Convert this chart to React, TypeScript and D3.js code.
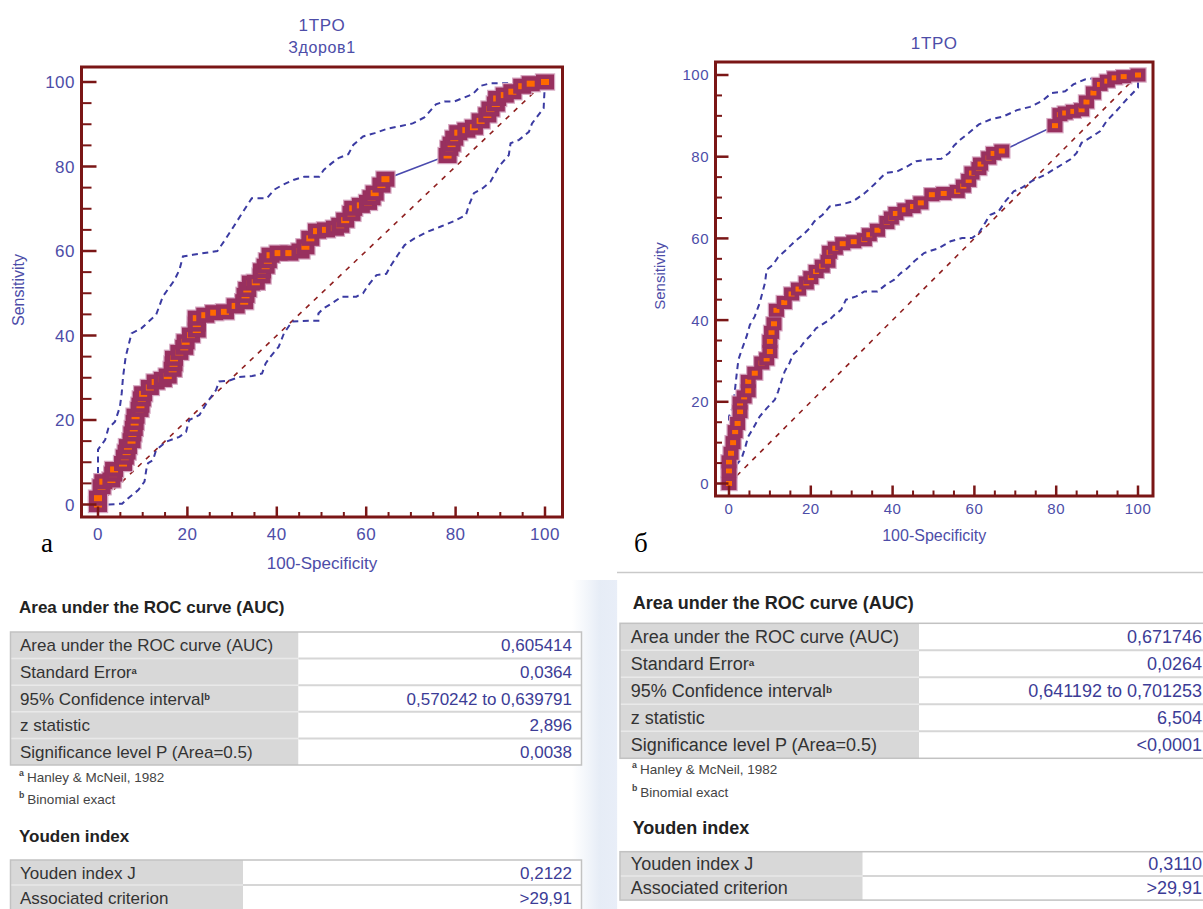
import React from "react";
import * as d3 from "d3";

// ---------- data ----------
const xTickLabels = [0, 20, 40, 60, 80, 100];
const yTickLabels = [0, 20, 40, 60, 80, 100];
const minorTicks = [0, 5, 10, 15, 20, 25, 30, 35, 40, 45, 50, 55, 60, 65, 70, 75, 80, 85, 90, 95, 100];

const titleA = "1TPO";
const subtitleA = "Здоров1";
const titleB = "1TPO";
const xAxisLabel = "100-Specificity";
const yAxisLabel = "Sensitivity";
const panelA = "а";
const panelB = "б";

type P = [number, number];

// chart а : ROC points (100-Specificity, Sensitivity)
const rocA: P[] = [
  [0, 0], [0, 1.5], [0.8, 4.2], [1.2, 5.4], [3, 5.8], [3.4, 7.2], [3.6, 8.3], [5.6, 9.7], [6, 11.2],
  [6.4, 12.4], [6.7, 13.7], [7.5, 15.1], [7.7, 16.7], [8, 18], [8.2, 19.4], [8.4, 20.9], [9.3, 22.5],
  [9.5, 23.5], [9.8, 25], [10.1, 26.2], [11.6, 27.7], [12.9, 29], [14.5, 29.6], [15.6, 30.4], [16.7, 32],
  [16.9, 33.3], [17, 34.6], [18.2, 36], [19.3, 37.2], [19.6, 38.5], [20.8, 40.1], [22.1, 41.3],
  [22.1, 42.7], [22.1, 44.1], [24, 44.8], [26, 45.4], [28.4, 45.6], [30.8, 47], [32.7, 48], [33, 49.5],
  [33.4, 50.9], [34.2, 52.4], [35.3, 52.6], [36.6, 54.1], [36.7, 55.3], [37.5, 56.4], [38, 57.7],
  [38.6, 59], [40.4, 59.5], [42.8, 59.5], [45.3, 60], [46.4, 61], [47.5, 63], [49, 64.7], [51, 65],
  [53, 65.4], [54.2, 66.1], [55.3, 67.3], [56.7, 68.9], [57.1, 70.1], [58.8, 70.8], [60.4, 71.5],
  [61.2, 72.6], [61.9, 73.7], [63.4, 75.6], [64.3, 77], [78.2, 82.6], [78.6, 84.3], [79.1, 85.3],
  [79.7, 86.7], [80.6, 88], [82.4, 88.6], [84.1, 89.3], [85.6, 90.8], [87.1, 92.2], [87.8, 93.6],
  [89, 94.8], [89.3, 96.1], [91, 96.9], [92.7, 97.7], [94.9, 99], [96.8, 99.6], [100, 100],
];
const ciHiA: P[] = [
  [0, 0], [0, 13], [1.6, 15.3], [2.3, 18], [3.8, 19.6], [4.9, 23.1], [5.3, 26.3], [5.6, 30.2],
  [6.2, 35], [7.5, 40.5], [9.7, 41.7], [13, 44.9], [14.5, 49.2], [17.1, 53.1], [18.2, 55.5], [19, 58.7],
  [21.2, 59.1], [26.7, 60], [28.4, 62.6], [30.1, 65.4], [32.7, 69.7], [34.4, 72.5], [37.8, 72.5],
  [39.4, 74.5], [41.2, 75.6], [43.7, 76.8], [46.2, 77.6], [49.5, 77.6], [50.5, 79.2], [52.3, 80.8],
  [53.8, 82], [56, 82.9], [57.1, 85.1], [59.3, 87.1], [61.9, 87.9], [64.9, 89], [67.8, 89.6],
  [70.4, 90.2], [73, 91.6], [75.6, 94.7], [77.5, 95.4], [79.7, 95.4], [81.9, 96.3], [83.8, 97.1],
  [85.6, 99.1], [87.8, 99.7], [93, 99.7], [94.2, 100], [100, 100],
];
const ciLoA: P[] = [
  [0, 0], [2.5, 0], [5.4, 0.2], [7.1, 1.8], [9, 3.4], [10.4, 5.4], [10.8, 8.2], [11.2, 9.8], [12.3, 10.5],
  [13, 12.9], [15.3, 14.9], [18.2, 16], [19.7, 17.2], [20.4, 20], [22.7, 21.2], [24.5, 24.3],
  [26.4, 27.1], [27.1, 29.1], [29.3, 29.3], [31.6, 30.2], [34.5, 30.4], [36.7, 31], [37.5, 33.4],
  [38.6, 35], [40.4, 37.3], [41.6, 40.5], [43.4, 43.3], [47.1, 43.5], [49.3, 43.5], [49.3, 45.2],
  [50.4, 46.4], [52.3, 47.6], [54.5, 49.2], [57.8, 49.2], [59.3, 50], [60.4, 51.8], [62.3, 54.3],
  [64.5, 54.6], [65.6, 56.7], [67.1, 59.1], [68.6, 61.4], [70.8, 63], [73.8, 64.6], [76.7, 65.8],
  [79.7, 67.1], [82.3, 68.5], [83, 70.9], [84.1, 73.7], [86, 74.8], [87.8, 76.4], [89.7, 80],
  [91.9, 82.7], [92.3, 85.5], [94.2, 86.3], [96.4, 88.2], [97.1, 90.2], [99.7, 93.8], [99.8, 96.1],
  [100, 100],
];

// chart б
const rocB: P[] = [
  [0, 0], [0, 3.1], [0, 5.3], [0.5, 7.4], [1, 10], [1.5, 12.7], [2.1, 14.7], [2.7, 17.6], [2.7, 19.7],
  [3.7, 21.2], [4.7, 22.7], [4.7, 25], [6.3, 27], [8, 29.5], [9.2, 30.5], [10, 32.3], [10, 34.8],
  [10.4, 37], [11, 39.1], [11.6, 42.4], [13.5, 44.3], [15.3, 46.4], [17, 47.6], [18.9, 49.1], [20, 50.4],
  [21.3, 51.9], [22.8, 53.2], [24.2, 54.4], [24.6, 56.6], [26, 57.6], [27.8, 58.7], [30.5, 59.2],
  [33.1, 59.7], [34.3, 60.9], [36.3, 62], [38.6, 63.9], [39.7, 65], [40.8, 66.1], [43, 67], [45, 67.8],
  [46.9, 68.7], [49.6, 70.7], [52.5, 71], [55.8, 71.5], [57.3, 72.8], [58.6, 74.2], [59.4, 76],
  [61.1, 77.1], [61.5, 78.2], [63.5, 79.7], [64.7, 80.8], [66.7, 81.4], [79.7, 87.6], [80.9, 90.3],
  [82.2, 90.7], [84.2, 91.1], [86.2, 91.5], [87.4, 93.4], [89.1, 95.6], [90.7, 97.7], [92.5, 98.5],
  [94.3, 99.3], [96.5, 99.6], [100, 100],
];
const ciHiB: P[] = [
  [0, 0], [0, 12.3], [0, 16.4], [1, 18.8], [1.5, 23.3], [1.9, 27], [2.3, 30.3], [3.1, 32.7], [4.3, 36],
  [5.1, 38.8], [6.3, 40.9], [7.5, 44.2], [8.8, 49.1], [9.2, 52.3], [10.8, 53.6], [12, 55.4], [14, 57.2],
  [16.1, 59.3], [18.1, 60.9], [19.7, 62.5], [20.9, 64.2], [22.9, 65.8], [24.6, 67.8], [27.4, 68.3],
  [30.4, 69.1], [33.2, 71.1], [35.5, 73.2], [38.3, 76], [41.1, 76.4], [43.5, 77.6], [45.8, 78.9],
  [48.6, 79.3], [51.9, 79.5], [53.8, 80.9], [55, 82.7], [56.6, 84.2], [58.6, 85.8], [61.1, 87.9],
  [63.9, 89.1], [67.2, 89.9], [70.4, 91.4], [73.6, 92.2], [76.5, 93.6], [78.9, 95.6], [82.2, 96],
  [84.2, 97.7], [87, 98.9], [90.3, 99.3], [95.1, 99.7], [97.6, 100], [100, 100],
];
const ciLoB: P[] = [
  [0, 0], [1.5, 1.7], [1.5, 4.1], [3.1, 6.2], [3.9, 8.6], [4.7, 11.5], [5.9, 13.5], [7.5, 16.4],
  [9.2, 18.4], [11.2, 20.5], [12, 22.5], [12.8, 25], [13.6, 27.4], [14.8, 29.5], [15.6, 31.5],
  [17.3, 33.1], [18.5, 34.8], [20.1, 36.4], [21.3, 38], [22.6, 38.8], [24.6, 40.1], [25.8, 41.3],
  [27.4, 42.5], [28.6, 45], [31.1, 45.8], [33.1, 47], [36.3, 47], [38.4, 48.7], [40.4, 49.9], [42, 51.5],
  [43.6, 52.7], [45.3, 54.4], [47.7, 56.4], [49.7, 57.1], [51.3, 57.6], [54.2, 59.3], [57, 60.1],
  [59.4, 60.1], [61.1, 61.3], [63.1, 64.6], [63.9, 65.8], [65.9, 66.6], [67.6, 69.1], [69.6, 71.5],
  [71.6, 72.4], [74, 74], [77.3, 75.6], [80.1, 77.3], [83.4, 79.3], [85, 80.9], [86.2, 83.4],
  [88.2, 84.6], [90.7, 86.2], [92.3, 88.7], [94.7, 91.2], [97.2, 94], [100, 96.9], [100, 100],
];
const diagonal: P[] = [[0, 0], [100, 100]];

// tables
const aucHeading = "Area under the ROC curve (AUC)";
const aucLabels = ["Area under the ROC curve (AUC)", "Standard Error", "95% Confidence interval", "z statistic", "Significance level P (Area=0.5)"];
const aucSup = ["", "a", "b", "", ""];
const aucValuesA = ["0,605414", "0,0364", "0,570242 to 0,639791", "2,896", "0,0038"];
const aucValuesB = ["0,671746", "0,0264", "0,641192 to 0,701253", "6,504", "<0,0001"];
const footnotes = [["a", "Hanley & McNeil, 1982"], ["b", "Binomial exact"]];
const youdenHeading = "Youden index";
const youdenLabels = ["Youden index J", "Associated criterion"];
const youdenValuesA = ["0,2122", ">29,91"];
const youdenValuesB = ["0,3110", ">29,91"];

// ---------- styles ----------
const SANS = "'Liberation Sans', Arial, sans-serif";
const SERIF = "'Liberation Serif', 'Times New Roman', serif";
const AXIS = "#7a1616";
const TXT = "#4d4da8";
const PURPLE = "#98305f";
const HALO = "#d7a8c2";
const ORANGE = "#ff6a00";
const CI = "#3b3ba2";
const DIAG = "#8f1f1f";

type ChartCfg = {
  frame: { l: number; r: number; t: number; b: number };
  xr: [number, number];
  yr: [number, number];
  roc: P[]; hi: P[]; lo: P[];
  title: string; subtitle?: string;
  titleY: number; subY?: number; titleSize: number;
  tickSize: number; yLabX: number; xLabY: number;
  axisSize: number; xTitleY: number; yTitleX: number; yTitleY: number;
  yMaj: number; yMin: number; xMaj: number; xMin: number;
  mw: number; mh: number; ow: number; oh: number;
  panel: string; panelX: number; panelY: number;
};

function RocChart(c: ChartCfg) {
  const x = d3.scaleLinear().domain([0, 100]).range(c.xr);
  const y = d3.scaleLinear().domain([0, 100]).range(c.yr);
  const line = d3.line<P>().x((d) => x(d[0])).y((d) => y(d[1]));
  const cx = (c.frame.l + c.frame.r) / 2;
  return (
    <g>
      <text x={cx} y={c.titleY} textAnchor="middle" fontFamily={SANS} fontSize={c.titleSize} fill={TXT} letterSpacing={0.6}>{c.title}</text>
      {c.subtitle && (
        <text x={cx} y={c.subY} textAnchor="middle" fontFamily={SANS} fontSize={c.titleSize - 1} fill={TXT} letterSpacing={0.6}>{c.subtitle}</text>
      )}
      {/* diagonal */}
      <path d={line(diagonal) || ""} fill="none" stroke={DIAG} strokeWidth={1.6} strokeDasharray="5 6" />
      {/* CI */}
      <path d={line(c.hi) || ""} fill="none" stroke={CI} strokeWidth={2} strokeDasharray="6 4.5" />
      <path d={line(c.lo) || ""} fill="none" stroke={CI} strokeWidth={2} strokeDasharray="6 4.5" />
      {/* ROC line */}
      <path d={line(c.roc) || ""} fill="none" stroke="#4a4aae" strokeWidth={1.6} />
      {/* halo under markers */}
      {c.roc.map((d, i) => (
        <rect key={"h" + i} x={x(d[0]) - c.mw / 2 - 1.2} y={y(d[1]) - c.mh / 2 - 1.2} width={c.mw + 2.4} height={c.mh + 2.4} fill={HALO} />
      ))}
      {/* markers */}
      {c.roc.map((d, i) => (
        <g key={i}>
          <rect x={x(d[0]) - c.mw / 2} y={y(d[1]) - c.mh / 2} width={c.mw} height={c.mh} fill={PURPLE} />
          <rect x={x(d[0]) - c.ow / 2} y={y(d[1]) - c.oh / 2} width={c.ow} height={c.oh} fill={ORANGE} />
        </g>
      ))}
      {/* ticks */}
      {minorTicks.map((v) => {
        const maj = v % 20 === 0;
        return (
          <g key={"t" + v}>
            <line x1={c.frame.l} x2={c.frame.l + (maj ? c.yMaj : c.yMin)} y1={y(v)} y2={y(v)} stroke={AXIS} strokeWidth={maj ? 2.5 : 2} />
            <line y1={c.frame.b} y2={c.frame.b - (maj ? c.xMaj : c.xMin)} x1={x(v)} x2={x(v)} stroke={AXIS} strokeWidth={maj ? 2.5 : 2} />
          </g>
        );
      })}
      <rect x={c.frame.l} y={c.frame.t} width={c.frame.r - c.frame.l} height={c.frame.b - c.frame.t} fill="none" stroke={AXIS} strokeWidth={3} />
      {yTickLabels.map((v) => (
        <text key={"yl" + v} x={c.yLabX} y={y(v)} dy="0.36em" textAnchor="end" fontFamily={SANS} fontSize={c.tickSize} fill={TXT} letterSpacing={0.5}>{v}</text>
      ))}
      {xTickLabels.map((v) => (
        <text key={"xl" + v} x={x(v)} y={c.xLabY} textAnchor="middle" fontFamily={SANS} fontSize={c.tickSize} fill={TXT} letterSpacing={0.5}>{v}</text>
      ))}
      <text x={cx} y={c.xTitleY} textAnchor="middle" fontFamily={SANS} fontSize={c.axisSize} fill={TXT}>{xAxisLabel}</text>
      <text transform={`translate(${c.yTitleX},${c.yTitleY}) rotate(-90)`} textAnchor="middle" fontFamily={SANS} fontSize={c.axisSize - 1} fill={TXT}>{yAxisLabel}</text>
      <text x={c.panelX} y={c.panelY} fontFamily={SERIF} fontSize={27} fill="#000">{c.panel}</text>
    </g>
  );
}

type TableCfg = {
  x: number; y: number; w: number; lw: number; rh: number;
  labels: string[]; sups?: string[]; values: string[];
  fs: number; labX: number; valX: number;
};

function StatTable(t: TableCfg) {
  const n = t.labels.length;
  const h = t.rh * n;
  return (
    <g>
      <rect x={t.x} y={t.y} width={t.lw} height={h} fill="#d8d8d8" />
      <rect x={t.x + t.lw} y={t.y} width={t.w - t.lw} height={h} fill="#ffffff" />
      {t.labels.map((_, i) =>
        i > 0 ? (
          <g key={"sep" + i}>
            <line x1={t.x} x2={t.x + t.lw} y1={t.y + i * t.rh} y2={t.y + i * t.rh} stroke="#e9e9e9" strokeWidth={1.5} />
            <line x1={t.x + t.lw} x2={t.x + t.w} y1={t.y + i * t.rh} y2={t.y + i * t.rh} stroke="#d6d6d6" strokeWidth={2} />
          </g>
        ) : null
      )}
      <rect x={t.x} y={t.y} width={t.w} height={h} fill="none" stroke="#c2c2c2" strokeWidth={1.5} />
      {t.labels.map((lab, i) => (
        <text key={"l" + i} x={t.labX} y={t.y + (i + 0.5) * t.rh} dy="0.36em" fontFamily={SANS} fontSize={t.fs} fill="#333">
          {lab}
          {t.sups && t.sups[i] ? (
            <tspan dy="-0.45em" fontSize={t.fs * 0.55} fontWeight="bold">{t.sups[i]}</tspan>
          ) : null}
        </text>
      ))}
      {t.values.map((v, i) => (
        <text key={"v" + i} x={t.valX} y={t.y + (i + 0.5) * t.rh} dy="0.36em" textAnchor="end" fontFamily={SANS} fontSize={t.fs} fill="#3c3c96">{v}</text>
      ))}
    </g>
  );
}

function Notes({ x, y1, y2, fs }: { x: number; y1: number; y2: number; fs: number }) {
  return (
    <g fontFamily={SANS} fill="#444">
      {footnotes.map((f, i) => (
        <text key={i} x={x} y={i === 0 ? y1 : y2} dy="0.36em" fontSize={fs}>
          <tspan fontSize={fs * 0.65} dy="-0.4em" fontWeight="bold">{f[0]}</tspan>
          <tspan dy="0.4em" dx={3}>{f[1]}</tspan>
        </text>
      ))}
    </g>
  );
}

export default function App() {
  return (
    <svg width={1203} height={909} style={{ position: "absolute", left: 0, top: 0 }} xmlns="http://www.w3.org/2000/svg">
      <defs>
        <linearGradient id="gap" x1="0" x2="1" y1="0" y2="0">
          <stop offset="0" stopColor="#e3eaf5" stopOpacity={0} />
          <stop offset="0.6" stopColor="#e0e8f4" stopOpacity={0.8} />
          <stop offset="0.97" stopColor="#e6ecf7" stopOpacity={0.9} />
          <stop offset="1" stopColor="#ffffff" stopOpacity={0} />
        </linearGradient>
      </defs>
      <rect x={0} y={0} width={1203} height={909} fill="#ffffff" />
      <rect x={572} y={580} width={46} height={329} fill="url(#gap)" />
      <line x1={617} x2={1203} y1={572.5} y2={572.5} stroke="#c9c9c9" strokeWidth={1.5} />

      <RocChart
        frame={{ l: 81.5, r: 562.5, t: 67, b: 517 }}
        xr={[98, 545]} yr={[504.5, 82]}
        roc={rocA} hi={ciHiA} lo={ciLoA}
        title={titleA} subtitle={subtitleA} titleY={31} subY={53} titleSize={17}
        tickSize={17} yLabX={75} xLabY={540}
        axisSize={17} xTitleY={569} yTitleX={24} yTitleY={290}
        yMaj={15} yMin={10} xMaj={10.5} xMin={5}
        mw={18} mh={15} ow={8} oh={6}
        panel={panelA} panelX={41} panelY={552}
      />
      <RocChart
        frame={{ l: 715.5, r: 1153, t: 62, b: 496 }}
        xr={[729, 1138]} yr={[483.5, 75]}
        roc={rocB} hi={ciHiB} lo={ciLoB}
        title={titleB} titleY={49} titleSize={17}
        tickSize={15} yLabX={709} xLabY={514}
        axisSize={16} xTitleY={541} yTitleX={665} yTitleY={276}
        yMaj={13} yMin={6.5} xMaj={10.5} xMin={5.5}
        mw={15} mh={13} ow={6} oh={5}
        panel={panelB} panelX={634} panelY={552}
      />

      {/* left tables */}
      <text x={19} y={606.7} dy="0.36em" fontFamily={SANS} fontWeight="bold" fontSize={17} fill="#222">{aucHeading}</text>
      <StatTable x={10.5} y={632} w={571} lw={288} rh={26.6} labels={aucLabels} sups={aucSup} values={aucValuesA} fs={17} labX={20} valX={572} />
      <Notes x={19} y1={780} y2={802} fs={13.5} />
      <text x={19} y={836} dy="0.36em" fontFamily={SANS} fontWeight="bold" fontSize={17} fill="#222">{youdenHeading}</text>
      <StatTable x={10.5} y={860} w={571} lw={232.5} rh={25} labels={youdenLabels} values={youdenValuesA} fs={17} labX={20} valX={572} />

      {/* right tables */}
      <text x={632.7} y={603} dy="0.36em" fontFamily={SANS} fontWeight="bold" fontSize={18} fill="#222">{aucHeading}</text>
      <StatTable x={620} y={623.3} w={600} lw={299} rh={27} labels={aucLabels} sups={aucSup} values={aucValuesB} fs={18} labX={630.8} valX={1202} />
      <Notes x={632} y1={772} y2={795} fs={13.5} />
      <text x={632.7} y={828} dy="0.36em" fontFamily={SANS} fontWeight="bold" fontSize={18} fill="#222">{youdenHeading}</text>
      <StatTable x={620} y={851.7} w={600} lw={242.7} rh={24.2} labels={youdenLabels} values={youdenValuesB} fs={18} labX={630.8} valX={1202} />
    </svg>
  );
}
